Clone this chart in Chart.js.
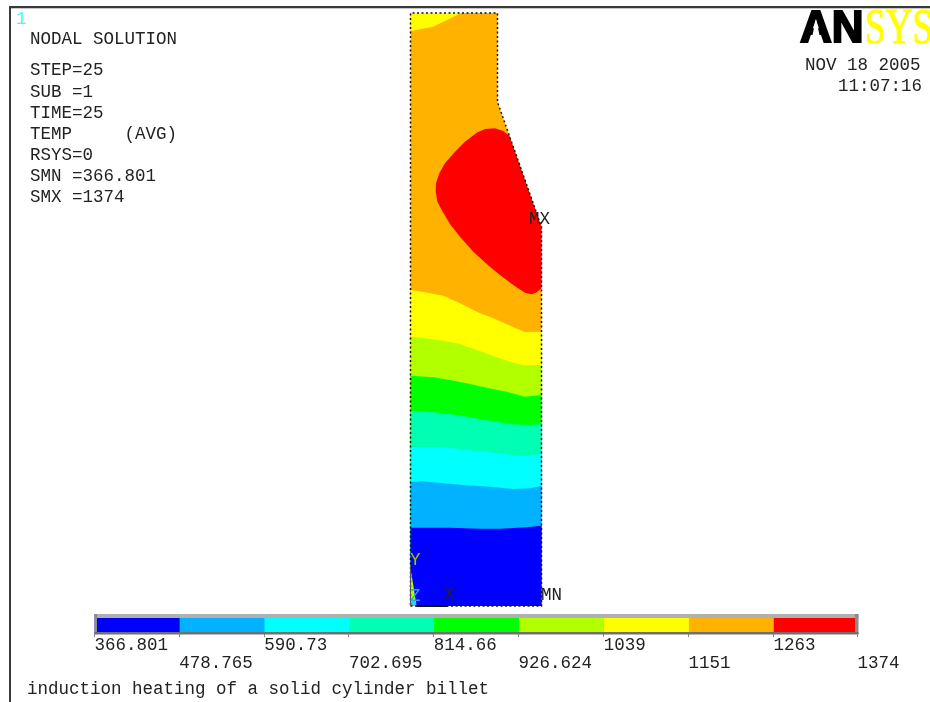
<!DOCTYPE html>
<html>
<head>
<meta charset="utf-8">
<style>
html,body{margin:0;padding:0;background:#fff;overflow:hidden}
#wrap{position:relative;width:930px;height:702px;overflow:hidden;filter:blur(0.35px)}
#wrap canvas{position:absolute;left:0;top:0}
#edgeTop{position:absolute;left:9px;top:6px;width:921px;height:2px;background:#3a3a3a}
#edgeTop2{position:absolute;left:11px;top:8px;width:919px;height:1px;background:#c8c8c8}
#edgeLeft{position:absolute;left:9px;top:6px;width:2px;height:696px;background:#3a3a3a}
</style>
</head>
<body>
<div id="wrap">
<div id="edgeTop"></div><div id="edgeTop2"></div><div id="edgeLeft"></div>
<canvas id="field" width="930" height="702"></canvas>
<canvas id="bar" width="930" height="702"></canvas>
</div>
<script src="https://cdn.jsdelivr.net/npm/chart.js@4"></script>
<script>
// Billet geometry and contour lines, as (radius, height) pairs
const billetOutline = [[0,0],[131,0],[131,379],[87,504],[87,593],[0,593]];
const topPatch = [[0,593],[51,593],[39.5,587.5],[32.5,584],[22.5,579.3],[9.5,576.7],[0,575]];
const hotZone = [[98.3,472],[131,379],[131,317.7],[126.2,313.7],[121.2,311.7],[114.5,313.3],[102.8,321],[89.5,331],[76.2,342],[62.8,354.3],[49.5,369.3],[39.5,382],[32.2,394.3],[26.8,404.3],[25.2,414.3],[25.5,422.7],[28.8,432.7],[34.5,442.7],[44.5,454.3],[54.5,464.3],[66.2,473.3],[74.5,477],[84.5,477.7],[92.8,475],[97.8,471]];
const contour1151 = [[0,316],[14.5,313.7],[32.8,310.3],[49.5,302.7],[66.2,294.3],[82.8,287.7],[99.5,280.3],[114.5,274],[131,274.3]];
const contour1039 = [[0,269.3],[14.5,267.7],[32.8,265.3],[49.5,262],[66.2,256],[82.8,250],[99.5,244.3],[112.8,240.7],[131,241]];
const contour926 = [[0,230.3],[22.8,228.7],[39.5,226],[56.2,222.7],[76.2,218.3],[96.2,214.3],[114.5,209.3],[131,211]];
const contour814 = [[0,195.3],[22.8,193.7],[46.2,191],[69.5,187],[86.2,184.3],[101.2,181.7],[119.5,181],[131,182]];
const contour702 = [[0,158.7],[32.8,158.7],[56.2,156],[79.5,153.7],[101.2,151],[116.2,150.3],[131,152]];
const contour590 = [[0,123.7],[11.2,124.7],[32.8,122.7],[56.2,120.7],[79.5,119.3],[102.8,117],[119.5,117.7],[131,120.3]];
const contour478 = [[0,78.3],[39.5,78.3],[69.5,77.3],[89.5,77.3],[116.2,78.7],[131,80.3]];
const cornerLime = [[0,38],[3,19.3],[6,0],[0,0]];
const cornerCyan = [[0,6],[4.5,6],[6,0],[0,0]];
const axisX = [[6,0],[37,0]];
const axisY = [[0,0],[0,40]];

// Contour legend
const levels = [366.801,478.765,590.73,702.695,814.66,926.624,1039,1151,1263,1374];
const levelLabels = ['366.801','478.765','590.73','702.695','814.66','926.624','1039','1151','1263','1374'];
const bandColors = ['#0000ff','#00b2ff','#00ffff','#00ffb2','#00ff00','#b2ff00','#ffff00','#ffb200','#ff0000'];

// Text
const infoLines = ['STEP=25','SUB =1','TIME=25','TEMP     (AVG)','RSYS=0','SMN =366.801','SMX =1374'];
const heading = 'NODAL SOLUTION';
const dateLine = 'NOV 18 2005';
const timeLine = '11:07:16';
const caption = 'induction heating of a solid cylinder billet';

const MONO = '"Liberation Mono"';
const TEXT = '#222';
const pts = a => a.map(p => ({x:p[0], y:p[1]}));
const down = a => pts(a.concat([[131,0],[0,0]]));
const area = (data,color) => ({type:'line',data,showLine:true,fill:'shape',backgroundColor:color,borderWidth:0,borderColor:color,pointRadius:0,tension:0});
const stroke = (data,color,dash,w) => ({type:'line',data,showLine:true,fill:false,borderColor:color,borderWidth:w,borderDash:dash,pointRadius:0,tension:0});

const paintOrder = [
  area(pts(billetOutline),'#ffb200'),
  area(pts(topPatch),'#ffff00'),
  area(pts(hotZone),'#ff0000'),
  area(down(contour1151),'#ffff00'),
  area(down(contour1039),'#b2ff00'),
  area(down(contour926),'#00ff00'),
  area(down(contour814),'#00ffb2'),
  area(down(contour702),'#00ffff'),
  area(down(contour590),'#00b2ff'),
  area(down(contour478),'#0000ff'),
  area(pts(cornerLime),'#b2ff00'),
  area(pts(cornerCyan),'#33ccff'),
  stroke(pts(billetOutline.concat([billetOutline[0]])),'#111',[2,2.5],1.5),
  stroke(pts(axisX),'#111',[],2),
  stroke(pts(axisY),'#555',[],1)
];
paintOrder.forEach((d,i)=>{d.order = paintOrder.length - i;});

const textPlugin = {
  id:'plotText',
  afterDraw(c){
    const g=c.ctx; g.save();
    g.textBaseline='middle'; g.textAlign='left';
    g.font='17.5px '+MONO; g.fillStyle=TEXT;
    g.fillText(heading,30,39);
    const ys=[70.5,92,113,134.5,155,176,197];
    infoLines.forEach((t,i)=>g.fillText(t,30,ys[i]));
    g.fillText(dateLine,805,65);
    g.fillText(timeLine,838,86);
    g.fillText(caption,27,689);
    g.fillText('MX',529,219);
    g.fillText('MN',541,595);
    g.fillText('X',444,594);
    g.fillStyle='#a8c400'; g.fillText('Y',410,560);
    g.fillStyle='#20a8e8'; g.fillText('Z',410,596);
    g.fillStyle='#30ffff'; g.fillText('1',16,19);
    // logo
    g.textBaseline='alphabetic';
    g.fillStyle='#000'; g.strokeStyle='#000'; g.lineWidth=2; g.lineJoin='miter';
    g.font='bold 44px "Liberation Sans"';
    g.fillText('AN',800,42,64);
    g.strokeText('AN',800,42,64);
    g.fillStyle='#fff';
    g.beginPath(); g.moveTo(816,19); g.lineTo(810.5,44); g.lineTo(821.5,44); g.closePath(); g.fill();
    g.fillStyle='#ffff00'; g.strokeStyle='#ffff00'; g.lineWidth=1;
    g.font='50px "Liberation Serif"';
    g.fillText('SYS',865,43,68);
    g.strokeText('SYS',865,43,68);
    g.restore();
  }
};

new Chart(document.getElementById('field'),{
  data:{datasets:paintOrder},
  options:{
    responsive:false,animation:false,
    layout:{padding:0},
    plugins:{legend:{display:false},tooltip:{enabled:false}},
    scales:{
      x:{type:'linear',min:-410.5,max:519.5,display:false},
      y:{type:'linear',min:-96,max:606,display:false}
    }
  },
  plugins:[textPlugin]
});

const framePlugin = {
  id:'barFrame',
  afterDatasetsDraw(c){
    const g=c.ctx,a=c.chartArea;
    g.save();
    g.fillStyle='#b0b0b0'; g.fillRect(a.left,a.top,a.right-a.left+1,4);
    g.fillStyle='#8c8c8c'; g.fillRect(a.left,a.top,2.5,a.bottom-a.top+1);
    g.fillRect(a.right-2.5,a.top,3.5,a.bottom-a.top+1);
    g.fillStyle='#707070'; g.fillRect(a.left,a.bottom-1,a.right-a.left+1,2.5);
    g.restore();
  }
};

new Chart(document.getElementById('bar'),{
  type:'bar',
  data:{
    labels:['TEMP'],
    datasets:bandColors.map((col,i)=>({data:[[levels[i],levels[i+1]]],backgroundColor:col,borderWidth:0,barPercentage:1,categoryPercentage:1}))
  },
  options:{
    indexAxis:'y',responsive:false,animation:false,
    layout:{padding:{left:94.5,right:72.5,top:614,bottom:9}},
    plugins:{legend:{display:false},tooltip:{enabled:false}},
    scales:{
      y:{display:false,stacked:false},
      x:{
        type:'linear',position:'bottom',min:levels[0],max:levels[levels.length-1],
        afterBuildTicks(s){s.ticks=levels.map(v=>({value:v}));},
        afterFit(s){s.height=60;},
        grid:{drawOnChartArea:false,drawTicks:true,tickLength:4,color:'#888'},
        border:{display:false},
        ticks:{
          autoSkip:false,maxRotation:0,align:'start',padding:0,color:TEXT,
          font:{family:MONO,size:17.5,lineHeight:0.99},
          callback:(v,i)=> i%2 ? ['',levelLabels[i]] : [levelLabels[i],'']
        }
      }
    },
    datasets:{bar:{grouped:false}}
  },
  plugins:[framePlugin]
});
</script>
</body>
</html>
